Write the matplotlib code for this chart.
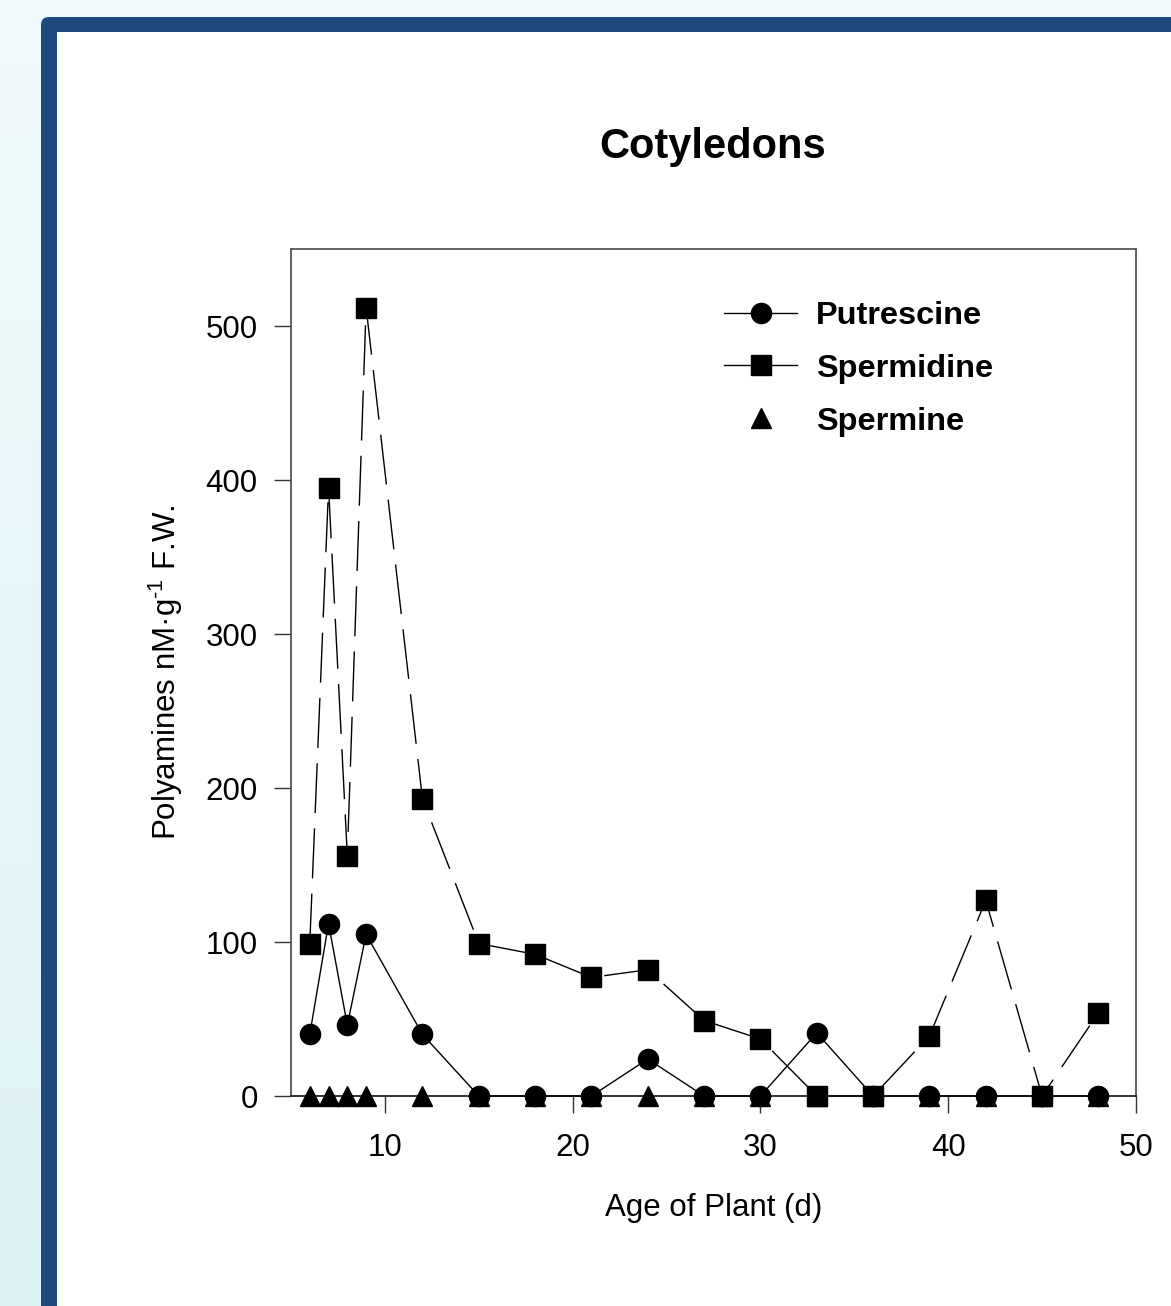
import numpy as np
import matplotlib
matplotlib.use("Agg")
import matplotlib.pyplot as plt
from matplotlib.patches import FancyBboxPatch, Rectangle
from matplotlib.lines import Line2D

plt.rcParams['font.family'] = ['Liberation Sans', 'DejaVu Sans']
plt.rcParams['mathtext.fontset'] = 'custom'
plt.rcParams['mathtext.rm'] = 'Liberation Sans'
plt.rcParams['mathtext.it'] = 'Liberation Sans:italic'
plt.rcParams['mathtext.bf'] = 'Liberation Sans:bold'

# ---- data ----
age = [6, 7, 8, 9, 12, 15, 18, 21, 24, 27, 30, 33, 36, 39, 42, 45, 48]
putrescine = [40, 112, 46, 105, 40, 0, 0, 0, 24, 0, 0, 41, 0, 0, 0, 0, 0]
spermidine = [99, 395, 156, 512, 193, 99, 92, 77, 82, 49, 37, 0, 0, 39, 127, 0, 54]
spermine = [0, 0, 0, 0, 0, 0, 0, 0, 0, 0, 0, 0, 0, 0, 0, 0, 0]
series_names = ["Putrescine", "Spermidine", "Spermine"]
x_ticks = [10, 20, 30, 40, 50]
y_ticks = [0, 100, 200, 300, 400, 500]

W, H = 1171, 1306
fig = plt.figure(figsize=(W / 100, H / 100), dpi=100)

# ---- slide background ----
bg = fig.add_axes([0, 0, 1, 1])
bg.set_xlim(0, W)
bg.set_ylim(H, 0)
bg.axis('off')
top_c = np.array([240, 249, 251]) / 255
bot_c = np.array([220, 243, 246]) / 255
t = np.linspace(0, 1, 256)[:, None]
grad = (top_c[None, :] * (1 - t) + bot_c[None, :] * t)[:, None, :]
bg.imshow(grad, extent=[0, W, H, 0], aspect='auto', zorder=0)
bg.add_patch(FancyBboxPatch((41, 17), 1400, 1500,
                            boxstyle='round,pad=0,rounding_size=8',
                            fc='#1f497d', ec='none', zorder=1))
bg.add_patch(Rectangle((57, 32), 1400, 1500, fc='white', ec='none', zorder=2))

# ---- chart ----
ax = fig.add_axes([291 / W, 1 - 1096 / H, (1136 - 291) / W, (1096 - 249) / H])
ax.set_xlim(5, 50)
ax.set_ylim(0, 550)

ax.plot(age, spermine, linestyle='none', marker='^', ms=15, color='black',
        zorder=3, clip_on=False)
ax.plot(age, putrescine, color='black', lw=1.0, marker='o', ms=14.5,
        zorder=4, clip_on=False)
sp, = ax.plot(age, spermidine, color='black', lw=1.0, marker='s', ms=14,
              zorder=5, clip_on=False)
sp.set_dashes([36, 11])

ax.set_xticks(x_ticks)
ax.set_yticks(y_ticks)
ax.tick_params(axis='both', direction='out', length=12, width=1.0,
               labelsize=22.5, color='#333333')
ax.tick_params(axis='x', pad=15)
ax.tick_params(axis='y', pad=12)
for s in ax.spines.values():
    s.set_color('#555555')
    s.set_linewidth(1.3)
ax.spines['bottom'].set_color('#222222')

ax.set_xlabel('Age of Plant (d)', fontsize=22.5)
ax.xaxis.set_label_coords(0.5, -0.114)
ax.set_ylabel(r'Polyamines nM·g$^{\text{-}1}$ F.W.', fontsize=22.5)
ax.yaxis.set_label_coords(-0.126, 0.5)

fig.text(713 / W, 1 - 158 / H, 'Cotyledons', ha='center', va='baseline',
         fontsize=30, fontweight='bold')

handles = [
    Line2D([], [], color='black', lw=1.0, marker='o', ms=14.5),
    Line2D([], [], color='black', lw=1.0, marker='s', ms=14),
    Line2D([], [], color='black', linestyle='none', marker='^', ms=15),
]
leg = ax.legend(handles, series_names, loc='upper left',
                bbox_to_anchor=(0.5124, 0.9385), frameon=False,
                prop={'weight': 'bold', 'size': 23.4},
                handlelength=2.25, handletextpad=0.58, labelspacing=0.7,
                borderpad=0, borderaxespad=0, numpoints=1)

fig.savefig('out.png', dpi=100)
